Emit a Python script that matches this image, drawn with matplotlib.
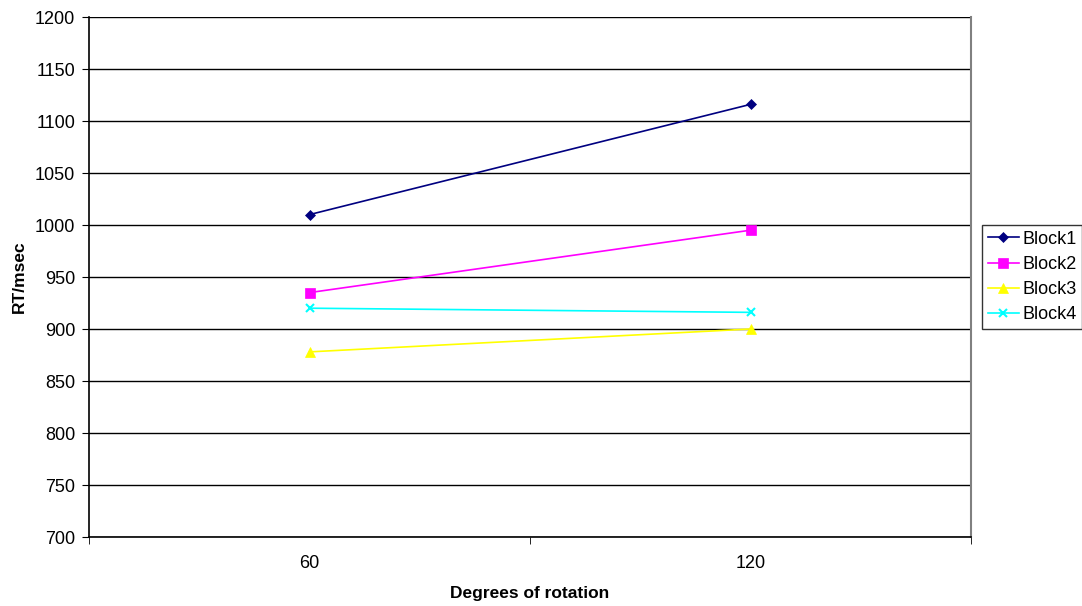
import matplotlib.pyplot as plt
from matplotlib.ticker import FixedLocator

plt.rcParams['font.family'] = ['Liberation Sans', 'DejaVu Sans']

degrees = ['60', '120']
block1 = [1010, 1116]
block2 = [935, 995]
block3 = [878, 900]
block4 = [920, 916]

series = [
    ('Block1', block1, '#000080', 'D', 5),
    ('Block2', block2, '#FF00FF', 's', 7),
    ('Block3', block3, '#FFFF00', '^', 7),
    ('Block4', block4, '#00FFFF', 'x', 6),
]

fig = plt.figure(figsize=(10.82, 6.06), dpi=100)
ax = fig.add_axes([89 / 1082, 69 / 606, 882 / 1082, 520 / 606])

x = list(range(len(degrees)))
for name, vals, col, mk, ms in series:
    ax.plot(x, vals, color=col, marker=mk, markersize=ms, linewidth=1.2,
            markeredgewidth=1.5 if mk == 'x' else 0.5, label=name)

ax.set_ylim(700, 1200)
ax.set_yticks(range(700, 1201, 50))
ax.yaxis.grid(True, color='black', linewidth=1)
ax.set_axisbelow(True)

ax.set_xlim(-0.5, len(degrees) - 0.5)
ax.set_xticks(x)
ax.set_xticklabels(degrees)
ax.xaxis.set_minor_locator(FixedLocator([-0.5, 0.5, 1.5]))
ax.tick_params(axis='x', which='major', length=0, pad=13, labelsize=13)
ax.tick_params(axis='x', which='minor', length=5, direction='out', color='black')
ax.tick_params(axis='y', length=5, direction='out', labelsize=13, pad=5)

for side in ['left', 'bottom']:
    ax.spines[side].set_color('black')
    ax.spines[side].set_linewidth(1.2)
ax.spines['top'].set_visible(False)
ax.spines['right'].set_color('#808080')
ax.spines['right'].set_linewidth(1.5)

ax.set_xlabel('Degrees of rotation', fontsize=12.5, fontweight='bold', labelpad=10)
ax.set_ylabel('RT/msec', fontsize=12.5, fontweight='bold', labelpad=6)

leg = ax.legend(loc='center left', bbox_to_anchor=(1.013, 0.5), fontsize=13,
                frameon=True, fancybox=False, borderpad=0.3, handlelength=1.7,
                labelspacing=0.45, handletextpad=0.2, borderaxespad=0)
leg.get_frame().set_edgecolor('black')
leg.get_frame().set_linewidth(1)

fig.savefig('out.png', dpi=100)
